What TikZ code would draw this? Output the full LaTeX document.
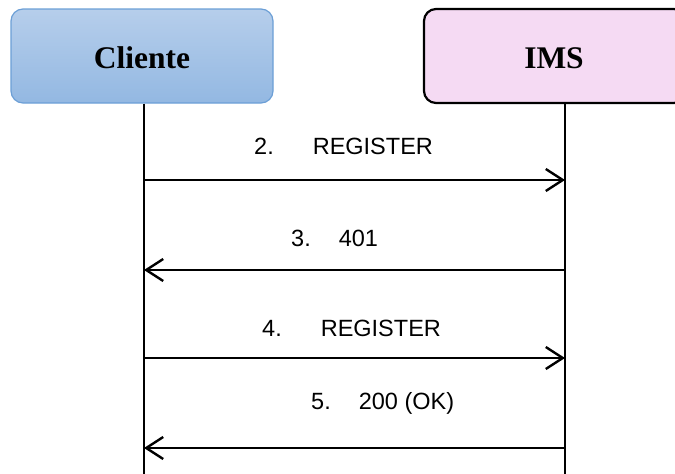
\documentclass[tikz,border=0pt]{standalone}
\usepackage{fontspec}
\setmainfont{Liberation Sans}
\newfontfamily\titlefont{Liberation Serif}
\usetikzlibrary{arrows.meta}
\definecolor{cliBorder}{HTML}{6C9FD6}
\definecolor{cliTop}{HTML}{B6CEEB}
\definecolor{cliBottom}{HTML}{93B8E2}
\definecolor{imsFill}{HTML}{F5DAF3}
\tikzset{
  actor/.style={rectangle, rounded corners=12pt, minimum height=94pt,
    inner sep=0pt, font=\titlefont\bfseries\fontsize{31.5}{36}\selectfont},
  lifeline/.style={line width=2.4pt, black},
  msg/.style={line width=2.4pt, black,
    -{Straight Barb[length=17pt,width=22pt,line width=2.4pt]}},
  msglabel/.style={anchor=west, inner sep=0pt,
    font=\fontsize{23.5}{28}\selectfont}
}
\begin{document}
\begin{tikzpicture}[x=1pt, y=-1pt]
  \clip (0,0) rectangle (675,474);
  \useasboundingbox (0,0) rectangle (675,474);

  % participants
  \node[actor, draw=cliBorder, line width=1.2pt, top color=cliTop,
        bottom color=cliBottom, minimum width=262pt]
        (cliente) at (142,56) {};
  \node[font=\titlefont\bfseries\fontsize{31.5}{36}\selectfont]
        (clilabel) at (142,58) {Cliente};
  \node[actor, draw=black, line width=2.2pt, fill=imsFill,
        minimum width=262pt] (ims) at (555,56) {};
  \node[font=\titlefont\bfseries\fontsize{31.5}{36}\selectfont]
        (imslabel) at (554,58) {IMS};

  % lifelines
  \coordinate (cliBase) at (144,480);
  \coordinate (imsBase) at (565,480);
  \draw[lifeline] (cliente.south -| cliBase) -- (cliBase);
  \draw[lifeline] (ims.south -| imsBase) -- (imsBase);

  % message anchors on the lifelines
  \coordinate (c1) at (144,180); \coordinate (i1) at (565,180);
  \coordinate (c2) at (144,270); \coordinate (i2) at (565,270);
  \coordinate (c3) at (144,358); \coordinate (i3) at (565,358);
  \coordinate (c4) at (144,448); \coordinate (i4) at (565,448);

  % messages
  \draw[msg] (c1) -- (i1);
  \draw[msg] (i2) -- (c2);
  \draw[msg] (c3) -- (i3);
  \draw[msg] (i4) -- (c4);

  % labels
  \node[msglabel] (l1) at (254,146) {2.\hspace{39pt}REGISTER};
  \node[msglabel] (l2) at (291,238) {3.\hspace{28pt}401};
  \node[msglabel] (l3) at (262,328) {4.\hspace{39pt}REGISTER};
  \node[msglabel] (l4) at (311,403) {5.\hspace{28pt}200 (OK)};
\end{tikzpicture}
\end{document}
